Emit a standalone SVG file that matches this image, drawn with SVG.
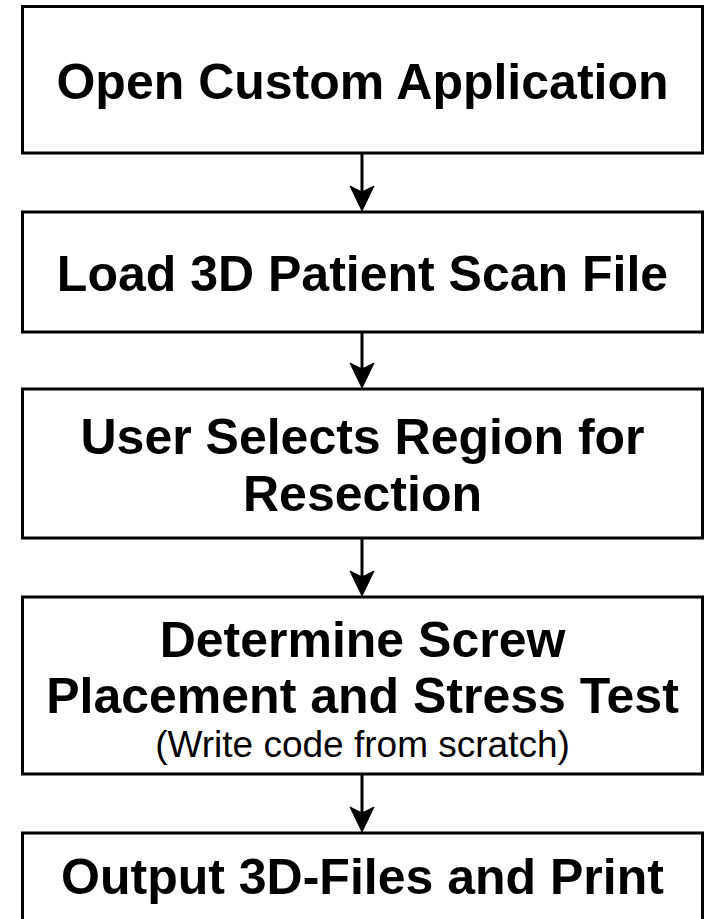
<svg xmlns="http://www.w3.org/2000/svg" width="708" height="919" viewBox="0 0 708 919">
<style>
.box{fill:#fff;stroke:#000;stroke-width:3}
.t{font-family:"Liberation Sans",Arial,sans-serif;font-weight:bold;font-size:50px;text-anchor:middle;fill:#000}
.s{font-family:"Liberation Sans",Arial,sans-serif;font-size:37px;text-anchor:middle;fill:#000}
.c{stroke:#000;stroke-width:3;fill:none}
.h{fill:#000;stroke:#000;stroke-width:1}
</style>
<rect width="708" height="919" fill="#fff"/>
<g id="n1"><rect class="box" x="22.5" y="6.5" width="680" height="146.5"/><text class="t" x="362.5" y="99">Open Custom Application</text></g>
<g id="n2"><rect class="box" x="22.5" y="212" width="680" height="120"/><text class="t" x="362.5" y="291">Load 3D Patient Scan File</text></g>
<g id="n3"><rect class="box" x="22.5" y="389" width="680" height="149"/><text class="t" x="362.5" y="454">User Selects Region for</text><text class="t" x="362.5" y="511">Resection</text></g>
<g id="n4"><rect class="box" x="22.5" y="597" width="680" height="177"/><text class="t" x="362.5" y="657">Determine Screw</text><text class="t" x="362.5" y="713">Placement and Stress Test</text><text class="s" x="362.5" y="757">(Write code from scratch)</text></g>
<g id="n5"><rect class="box" x="22.5" y="833" width="680" height="110"/><text class="t" x="362.5" y="894">Output 3D-Files and Print</text></g>
<g id="connectors">
<path class="c" d="M362,153 V194"/><path class="h" d="M362,211 L350,186 L362,192 L374,186 Z"/>
<path class="c" d="M362,332 V371"/><path class="h" d="M362,388 L350,363 L362,369 L374,363 Z"/>
<path class="c" d="M362,538 V579"/><path class="h" d="M362,596 L350,571 L362,577 L374,571 Z"/>
<path class="c" d="M362,774 V815"/><path class="h" d="M362,832 L350,807 L362,813 L374,807 Z"/>
</g>
</svg>
